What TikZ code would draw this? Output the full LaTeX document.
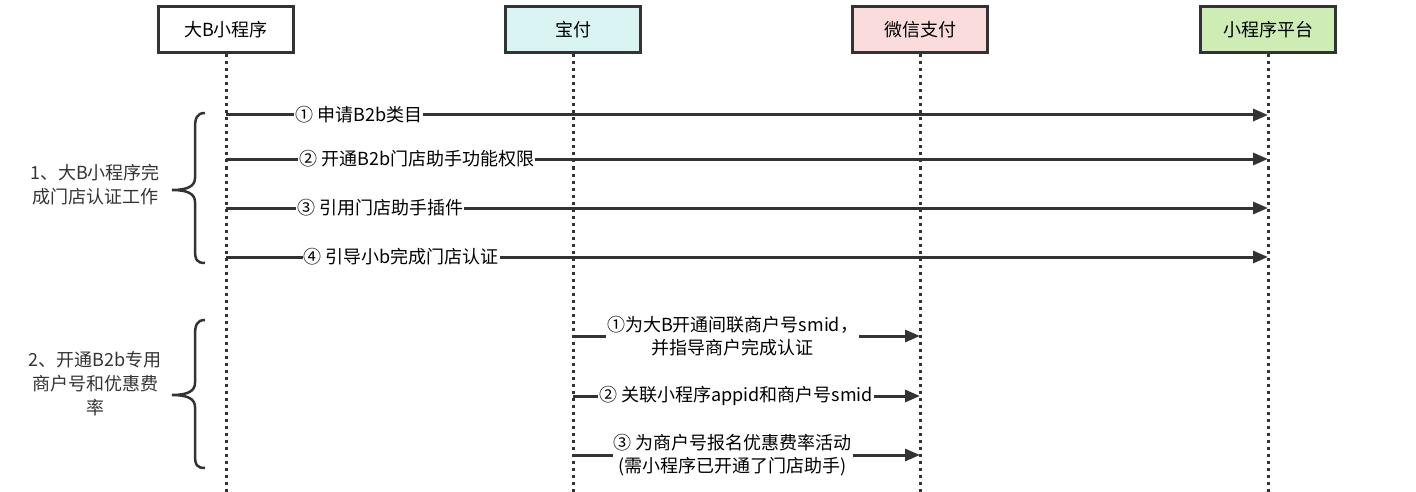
\documentclass[tikz,border=0pt]{standalone}
\usepackage{fontspec}
\setmainfont{Noto Sans CJK SC}
\usetikzlibrary{arrows.meta}
\definecolor{linegray}{HTML}{333333}
\definecolor{bfcyan}{HTML}{DAF4F3}
\definecolor{wxpink}{HTML}{FADCDC}
\definecolor{mpgreen}{HTML}{CDEDB5}
\begin{document}
\begin{tikzpicture}[x=1pt,y=-1pt,
    actor/.style={draw=linegray,line width=3pt,minimum width=135pt,minimum height=46pt,inner sep=0pt,font=\fontsize{18}{20}\selectfont},
    life/.style={draw=linegray,line width=3pt,dash pattern=on 3pt off 4pt},
    msg/.style={draw=linegray,line width=3pt,-{Triangle[length=15pt,width=12pt]}},
    lbl/.style={fill=white,inner sep=1pt,align=center,font=\fontsize{18}{23}\selectfont},
    brace/.style={draw=linegray,line width=2.5pt},
    phase/.style={align=center,font=\fontsize{18}{24}\selectfont,text=linegray}]
  \useasboundingbox (0,0) rectangle (1416,492);
  % lifelines
  \foreach \n/\x/\c/\t in {bigB/226/white/大B小程序,baofu/573/bfcyan/宝付,wxpay/920/wxpink/微信支付,mpplat/1268/mpgreen/小程序平台}
  {
    \node[actor,fill=\c] (\n) at (\x,30) {\t};
    \coordinate (\n-end) at (\x,492);
    \draw[life] (\n.south) -- (\n-end);
  }
  % step 1
  \draw[msg] (bigB.south |- 0,115) -- (mpplat.south |- 0,115) node[lbl,pos=0.064,anchor=west] (s11) {① 申请B2b类目};
  \draw[msg] (bigB.south |- 0,159) -- (mpplat.south |- 0,159) node[lbl,pos=0.068,anchor=west] (s12) {② 开通B2b门店助手功能权限};
  \draw[msg] (bigB.south |- 0,208) -- (mpplat.south |- 0,208) node[lbl,pos=0.066,anchor=west] (s13) {③ 引用门店助手插件};
  \draw[msg] (bigB.south |- 0,257) -- (mpplat.south |- 0,257) node[lbl,pos=0.072,anchor=west] (s14) {④ 引导小b完成门店认证};
  % step 2
  \draw[msg] (baofu.south |- 0,336) -- (wxpay.south |- 0,336) node[lbl,pos=0.46] (s21) {①为大B开通间联商户号smid，\\并指导商户完成认证};
  \draw[msg] (baofu.south |- 0,396) -- (wxpay.south |- 0,396) node[lbl,pos=0.47] (s22) {② 关联小程序appid和商户号smid};
  \draw[msg] (baofu.south |- 0,455) -- (wxpay.south |- 0,455) node[lbl,pos=0.46] (s23) {③ 为商户号报名优惠费率活动\\(需小程序已开通了门店助手)};
  % braces
  \draw[brace] (205,113) .. controls (197,113) and (195,118) .. (195,128) -- (195,178)
    .. controls (195,186) and (188,190) .. (172,190) .. controls (188,190) and (195,194) .. (195,202)
    -- (195,250) .. controls (195,260) and (197,263) .. (205,263);
  \draw[brace] (205,320) .. controls (197,320) and (195,325) .. (195,335) -- (195,383)
    .. controls (195,391) and (188,395) .. (172,395) .. controls (188,395) and (195,399) .. (195,407)
    -- (195,455) .. controls (195,465) and (197,468) .. (205,468);
  \node[phase] (ph1) at (95,185) {1、大B小程序完\\成门店认证工作};
  \node[phase] (ph2) at (95,384) {2、开通B2b专用\\商户号和优惠费\\率};
\end{tikzpicture}
\end{document}
